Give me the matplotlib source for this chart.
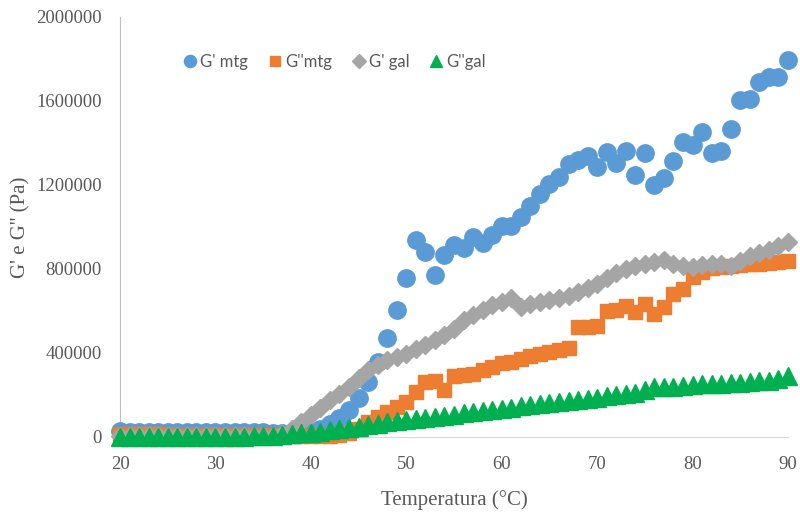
import numpy as np
import matplotlib.pyplot as plt

# temperature sweep, one reading per degree
temp = np.arange(20, 91)

g1_mtg = [28000, 25000, 25000, 25000, 25000, 25000, 25000, 25000, 25000, 25000,
          24000, 24000, 24000, 23000, 23000, 22000, 21000, 20000, 20000, 20000,
          25000, 40000, 60000, 90000, 128000, 185000, 263000, 358000, 470000, 605000,
          756000, 938000, 882000, 771000, 867000, 914000, 900000, 954000, 925000, 962000,
          1005000, 1005000, 1046000, 1100000, 1157000, 1205000, 1237000, 1300000, 1319000, 1340000,
          1287000, 1359000, 1303000, 1363000, 1248000, 1351000, 1200000, 1232000, 1316000, 1406000,
          1390000, 1454000, 1354000, 1363000, 1466000, 1605000, 1608000, 1692000, 1713000, 1713000,
          1795000]

g2_mtg = [12000, 12000, 12000, 12000, 12000, 11000, 11000, 11000, 11000, 10000,
          10000, 10000, 10000, 9000, 9000, 9000, 8000, 8000, 6000, 5000,
          3000, 3000, 5000, 10000, 20000, 40000, 70000, 95000, 120000, 145000,
          165000, 215000, 260000, 265000, 225000, 290000, 295000, 300000, 320000, 335000,
          350000, 355000, 370000, 385000, 395000, 405000, 415000, 425000, 525000, 525000,
          530000, 600000, 605000, 625000, 597000, 633000, 586000, 620000, 681000, 705000,
          760000, 785000, 805000, 810000, 812000, 818000, 822000, 826000, 830000, 834000,
          837000]

g1_gal = [5000, 5000, 5000, 5000, 5000, 5000, 5000, 5000, 5000, 5000,
          5000, 5000, 5000, 5000, 5000, 5000, 6000, 12000, 40000, 70000,
          105000, 140000, 175000, 205000, 240000, 280000, 320000, 345000, 365000, 380000,
          395000, 420000, 440000, 460000, 485000, 515000, 555000, 580000, 605000, 630000,
          645000, 660000, 620000, 632000, 642000, 652000, 660000, 670000, 690000, 710000,
          730000, 755000, 780000, 800000, 815000, 825000, 835000, 845000, 825000, 815000,
          810000, 820000, 822000, 825000, 812000, 840000, 860000, 875000, 890000, 910000,
          930000]

g2_gal = [0, 0, 0, 0, 0, 0, 0, 0, 0, 0,
          0, 0, 0, 0, 3000, 5000, 7000, 10000, 13000, 17000,
          21000, 26000, 32000, 38000, 43000, 48000, 55000, 62000, 70000, 77000,
          83000, 88000, 92000, 97000, 102000, 107000, 112000, 117000, 122000, 128000,
          134000, 140000, 146000, 151000, 156000, 161000, 167000, 173000, 178000, 183000,
          188000, 193000, 198000, 204000, 210000, 225000, 236000, 238000, 240000, 243000,
          247000, 250000, 252000, 254000, 256000, 259000, 262000, 265000, 269000, 276000,
          292000]

labels = ["G' mtg", "G''mtg", "G' gal", "G''gal"]
yticks = [0, 400000, 800000, 1200000, 1600000, 2000000]
xticks = [20, 30, 40, 50, 60, 70, 80, 90]

serif = ['Liberation Serif', 'DejaVu Serif']
txt_col = '#595959'

fig = plt.figure(figsize=(8, 5.12), dpi=100)
ax = fig.add_axes([0.15, 0.1465, 0.835, 0.8203])

ax.plot(temp, g1_mtg, 'o', ms=12.5, color='#5b9bd5', mec='#5b9bd5', clip_on=False, zorder=3, label=labels[0])
ax.plot(temp, g2_mtg, 's', ms=10.5, color='#ed7d31', mec='#ed7d31', clip_on=False, zorder=4, label=labels[1])
ax.plot(temp, g1_gal, 'D', ms=9.5, color='#a5a5a5', mec='#a5a5a5', clip_on=False, zorder=5, label=labels[2])
ax.plot(temp, g2_gal, '^', ms=13, color='#00b050', mec='#00b050', clip_on=False, zorder=6, label=labels[3])

ax.set_xlim(20, 90)
ax.set_ylim(0, 2000000)
ax.set_xticks(xticks)
ax.set_yticks(yticks)
ax.set_xticklabels([str(v) for v in xticks], family=serif, fontsize=13.5, color=txt_col)
ax.set_yticklabels([str(v) for v in yticks], family=serif, fontsize=13.5, color=txt_col)
ax.tick_params(axis='x', length=0, pad=14)
ax.tick_params(axis='y', length=0, pad=13)

for s in ['top', 'right']:
    ax.spines[s].set_visible(False)
ax.spines['left'].set_color('#bfbfbf')
ax.spines['bottom'].set_color('#d9d9d9')
ax.spines['bottom'].set_zorder(1)

ax.set_xlabel('Temperatura (°C)', family=serif, fontsize=15, color=txt_col, labelpad=12)
ax.set_ylabel("G' e G'' (Pa)", family=serif, fontsize=15, color=txt_col, labelpad=4)

leg = ax.legend(loc='center', bbox_to_anchor=(0.32, 0.893), ncol=4, frameon=False,
                prop={'family': ['Lato', 'DejaVu Sans'], 'size': 12},
                handletextpad=0.1, columnspacing=1.1, handlelength=1.0, markerscale=0.7)
for t in leg.get_texts():
    t.set_color(txt_col)

fig.savefig('out.png', dpi=100)
